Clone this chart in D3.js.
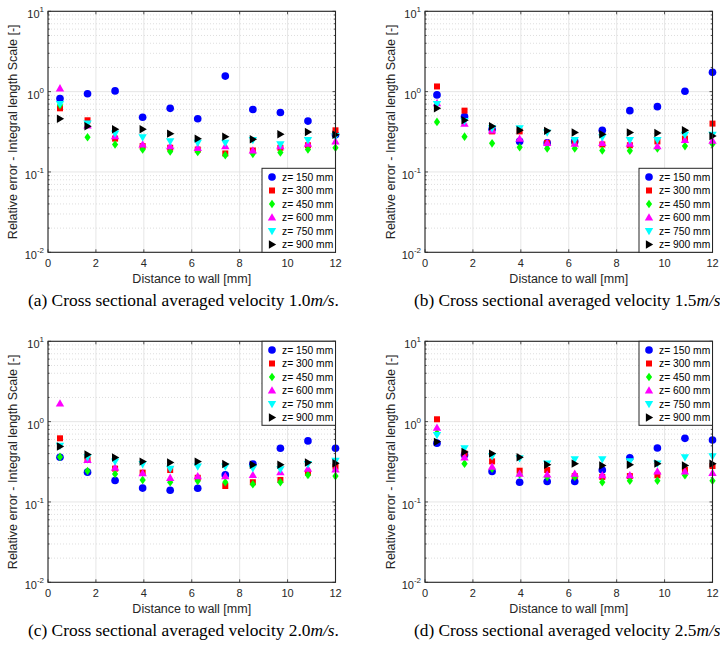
<!DOCTYPE html>
<html>
<head>
<meta charset="utf-8">
<script src="https://cdn.jsdelivr.net/npm/d3@7"></script>
<style>
  body { margin: 0; background: #fff; overflow: hidden; }
</style>
</head>
<body>
<script>
// distances to the wall [mm], shared by all four panels
const distance = [0.5, 1.65, 2.8, 3.95, 5.1, 6.25, 7.4, 8.55, 9.7, 10.85, 12.0];

const seriesLabels = ['z= 150 mm', 'z= 300 mm', 'z= 450 mm', 'z= 600 mm', 'z= 750 mm', 'z= 900 mm'];
const seriesColors = ['#0000ff', '#ff0000', '#00ff00', '#ff00ff', '#00ffff', '#000000'];
const markerKinds = ['circle', 'square', 'diamond', 'up', 'down', 'right'];

const xTicks = [0, 2, 4, 6, 8, 10, 12];
const yTickExps = [-2, -1, 0, 1];

// relative error, one row per z position (150 ... 900 mm)
const errA = [
  [0.82, 0.94, 1.02, 0.48, 0.62, 0.46, 1.56, 0.60, 0.55, 0.43, 0.29],
  [0.62, 0.44, 0.26, 0.21, 0.20, 0.19, 0.17, 0.185, 0.20, 0.215, 0.33],
  [0.68, 0.27, 0.22, 0.19, 0.18, 0.177, 0.162, 0.168, 0.175, 0.19, 0.20],
  [1.10, 0.38, 0.28, 0.22, 0.21, 0.20, 0.21, 0.185, 0.21, 0.225, 0.24],
  [0.70, 0.40, 0.30, 0.27, 0.24, 0.23, 0.23, 0.25, 0.22, 0.25, 0.28],
  [0.46, 0.37, 0.34, 0.34, 0.30, 0.26, 0.275, 0.255, 0.295, 0.315, 0.29]
];
const errB = [
  [0.91, 0.49, 0.34, 0.24, 0.23, 0.24, 0.33, 0.58, 0.65, 1.01, 1.74],
  [1.16, 0.58, 0.32, 0.32, 0.23, 0.23, 0.22, 0.215, 0.24, 0.26, 0.40],
  [0.42, 0.275, 0.227, 0.203, 0.196, 0.196, 0.185, 0.184, 0.196, 0.21, 0.223],
  [0.72, 0.40, 0.33, 0.26, 0.23, 0.225, 0.23, 0.225, 0.21, 0.25, 0.245],
  [0.70, 0.43, 0.35, 0.35, 0.31, 0.25, 0.27, 0.25, 0.25, 0.29, 0.29],
  [0.62, 0.44, 0.37, 0.33, 0.325, 0.31, 0.295, 0.31, 0.305, 0.33, 0.28]
];
const errC = [
  [0.36, 0.235, 0.185, 0.149, 0.14, 0.148, 0.217, 0.297, 0.466, 0.575, 0.466],
  [0.62, 0.34, 0.26, 0.232, 0.25, 0.20, 0.158, 0.176, 0.188, 0.232, 0.275],
  [0.364, 0.243, 0.223, 0.188, 0.176, 0.183, 0.176, 0.166, 0.176, 0.217, 0.21],
  [1.69, 0.333, 0.268, 0.228, 0.20, 0.21, 0.21, 0.217, 0.235, 0.26, 0.255],
  [0.50, 0.36, 0.318, 0.295, 0.258, 0.275, 0.275, 0.263, 0.255, 0.295, 0.324],
  [0.49, 0.39, 0.357, 0.318, 0.31, 0.318, 0.297, 0.29, 0.29, 0.31, 0.304]
];
const errD = [
  [0.54, 0.385, 0.24, 0.176, 0.18, 0.18, 0.25, 0.355, 0.47, 0.62, 0.59],
  [1.07, 0.40, 0.32, 0.245, 0.25, 0.21, 0.205, 0.21, 0.215, 0.25, 0.28],
  [0.72, 0.30, 0.26, 0.22, 0.205, 0.205, 0.176, 0.184, 0.184, 0.215, 0.184],
  [0.84, 0.36, 0.275, 0.225, 0.22, 0.225, 0.215, 0.215, 0.24, 0.24, 0.23],
  [0.68, 0.466, 0.37, 0.35, 0.30, 0.34, 0.34, 0.32, 0.30, 0.36, 0.37],
  [0.56, 0.42, 0.40, 0.36, 0.29, 0.30, 0.285, 0.29, 0.30, 0.285, 0.30]
];

const captionLetters = ['(a)', '(b)', '(c)', '(d)'];
const captionSpeeds = ['1.0', '1.5', '2.0', '2.5'];

const W = 720, H = 647;
const textColor = '#262626';

const svg = d3.select('body').append('svg')
  .attr('width', W)
  .attr('height', H)
  .style('font-family', '"Liberation Sans", Arial, sans-serif');

// marker outlines, centred on 0,0
function markerPath(kind) {
  switch (kind) {
    case 'circle': return d3.symbol(d3.symbolCircle, 46)();
    case 'square': return 'M-3,-3H3V3H-3Z';
    case 'diamond': return 'M0,-4.3L3.1,0L0,4.3L-3.1,0Z';
    case 'up': return 'M0,-4.2L4.2,3.1L-4.2,3.1Z';
    case 'down': return 'M0,4.2L4.2,-3.1L-4.2,-3.1Z';
    case 'right': return 'M4.2,0L-3.1,-4.2L-3.1,4.2Z';
  }
}

const panels = [
  { data: errA, left: 48, top: 11.3, legendTop: false, ylabX: 13, capX: 28, capY: 306 },
  { data: errB, left: 425, top: 11.3, legendTop: false, ylabX: 391, capX: 414, capY: 306 },
  { data: errC, left: 48, top: 341.3, legendTop: true, ylabX: 13, capX: 28, capY: 636 },
  { data: errD, left: 425, top: 341.3, legendTop: true, ylabX: 391, capX: 414, capY: 636 }
];
const pw = 287.5, ph = 241;
const captionWidth = 311; // width of a full caption line, period included

panels.forEach((p, pi) => {
  const g = svg.append('g').attr('transform', `translate(${p.left},${p.top})`);

  const x = d3.scaleLinear().domain([0, 12]).range([0, pw]);
  const y = d3.scaleLog().domain([0.01, 10]).range([ph, 0]);

  // minor grid (dotted) on the log axis
  const minors = [];
  yTickExps.slice(0, -1).forEach(e => {
    for (let k = 2; k <= 9; k++) minors.push(k * Math.pow(10, e));
  });
  g.selectAll('.minor').data(minors).join('line')
    .attr('x1', 0).attr('x2', pw)
    .attr('y1', d => y(d)).attr('y2', d => y(d))
    .attr('stroke', '#c8c8c8').attr('stroke-width', 0.6)
    .attr('stroke-dasharray', '1,2');

  // major grid
  g.selectAll('.gx').data(xTicks).join('line')
    .attr('x1', d => x(d)).attr('x2', d => x(d))
    .attr('y1', 0).attr('y2', ph)
    .attr('stroke', '#e0e0e0').attr('stroke-width', 0.8);
  g.selectAll('.gy').data(yTickExps).join('line')
    .attr('x1', 0).attr('x2', pw)
    .attr('y1', d => y(Math.pow(10, d))).attr('y2', d => y(Math.pow(10, d)))
    .attr('stroke', '#e0e0e0').attr('stroke-width', 0.8);

  // inward ticks on all four sides
  const tk = g.append('g').attr('stroke', textColor).attr('stroke-width', 0.8);
  xTicks.forEach(t => {
    tk.append('line').attr('x1', x(t)).attr('x2', x(t)).attr('y1', ph).attr('y2', ph - 3);
    tk.append('line').attr('x1', x(t)).attr('x2', x(t)).attr('y1', 0).attr('y2', 3);
  });
  yTickExps.forEach(e => {
    const yy = y(Math.pow(10, e));
    tk.append('line').attr('x1', 0).attr('x2', 3).attr('y1', yy).attr('y2', yy);
    tk.append('line').attr('x1', pw).attr('x2', pw - 3).attr('y1', yy).attr('y2', yy);
  });
  minors.forEach(m => {
    const yy = y(m);
    tk.append('line').attr('x1', 0).attr('x2', 1.6).attr('y1', yy).attr('y2', yy);
    tk.append('line').attr('x1', pw).attr('x2', pw - 1.6).attr('y1', yy).attr('y2', yy);
  });

  // data markers, drawn series by series so black ends up on top
  p.data.forEach((vals, si) => {
    g.append('g').selectAll('path').data(vals).join('path')
      .attr('d', markerPath(markerKinds[si]))
      .attr('transform', (d, i) => `translate(${x(distance[i])},${y(d)})`)
      .attr('fill', seriesColors[si]);
  });

  // box
  g.append('rect').attr('width', pw).attr('height', ph)
    .attr('fill', 'none').attr('stroke', textColor).attr('stroke-width', 1.1);

  // x tick labels
  g.selectAll('.xt').data(xTicks).join('text')
    .attr('x', d => x(d)).attr('y', ph + 15)
    .attr('text-anchor', 'middle').attr('font-size', 11).attr('fill', textColor)
    .text(d => d);

  // y tick labels as 10 with superscript exponent
  yTickExps.forEach(e => {
    const t = g.append('text')
      .attr('x', -4).attr('y', y(Math.pow(10, e)) + 7)
      .attr('text-anchor', 'end').attr('font-size', 11).attr('fill', textColor);
    t.append('tspan').text('10');
    t.append('tspan').attr('dy', -6).attr('font-size', 8).text(e);
  });

  g.append('text')
    .attr('x', pw / 2).attr('y', ph + 31)
    .attr('text-anchor', 'middle').attr('font-size', 12.5).attr('fill', textColor)
    .text('Distance to wall [mm]');

  svg.append('text')
    .attr('transform', `translate(${p.ylabX + 4},${p.top + ph / 2}) rotate(-90)`)
    .attr('text-anchor', 'middle').attr('font-size', 12.5).attr('fill', textColor)
    .text('Relative error - Integral length Scale [-]');

  // legend
  const lw = 73.5, lh = 84;
  const lx = pw - lw, ly = p.legendTop ? 0 : ph - lh;
  const lg = g.append('g').attr('transform', `translate(${lx},${ly})`);
  lg.append('rect').attr('width', lw).attr('height', lh)
    .attr('fill', '#fff').attr('stroke', textColor).attr('stroke-width', 1);
  seriesLabels.forEach((lab, si) => {
    const yy = 8.7 + si * 13.5;
    lg.append('path').attr('d', markerPath(markerKinds[si]))
      .attr('transform', `translate(10,${yy})`).attr('fill', seriesColors[si]);
    lg.append('text').attr('x', 20).attr('y', yy + 3.8)
      .attr('font-size', 10.3).attr('fill', '#000').text(lab);
  });

  // caption under each panel (always written with its period, then sized)
  const cap = svg.append('text')
    .attr('x', p.capX).attr('y', p.capY)
    .attr('font-family', '"Liberation Serif", "DejaVu Serif", serif')
    .attr('font-size', 16).attr('fill', '#000');
  cap.append('tspan').text(`${captionLetters[pi]} Cross sectional averaged velocity ${captionSpeeds[pi]}`);
  cap.append('tspan').attr('font-style', 'italic').text('m/s');
  cap.append('tspan').text('.');
  const cw = cap.node().getComputedTextLength();
  cap.attr('font-size', 16 * captionWidth / cw);
});
</script>
</body>
</html>
